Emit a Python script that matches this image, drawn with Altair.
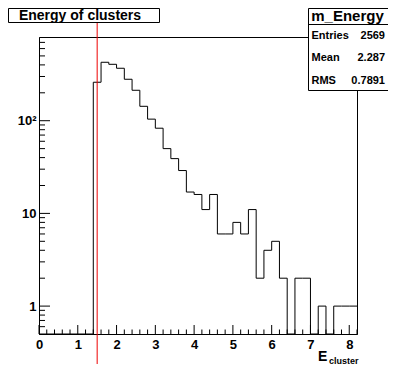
import altair as alt
import numpy as np
import pandas as pd

# ---- data ----
bin_width = 0.2
n_bins = 41  # 0.0 .. 8.2
counts = [0, 0, 0, 0, 0, 0, 0,
          260, 427, 406, 368, 280, 213, 143, 104, 83, 50,
          39, 29, 17, 16, 11, 16, 6, 6, 8, 6,
          11, 2, 4, 5, 2, 0, 2, 2, 0, 1,
          0, 1, 1, 1]
x_tick_labels = [0, 1, 2, 3, 4, 5, 6, 7, 8]
y_tick_values = [1, 10, 100]
cut_value = [1.5]
stats_names = ["Entries", "Mean", "RMS"]
stats_values = ["2569", "2.287", "0.7891"]
hist_name = "m_Energy"
title_text = "Energy of clusters"

edges = [round(i * bin_width, 1) for i in range(n_bins + 1)]
step_x = edges
step_y = counts + [counts[-1]]
hist_df = pd.DataFrame({"E": step_x, "N": [max(v, 0.1) for v in step_y]})

W, H = 318, 297
FONT = "Liberation Sans"

xscale = alt.Scale(domain=[0, 8.2], nice=False, zero=False)
yscale = alt.Scale(type="log", domain=[0.5, 800], nice=False, clamp=True)
xaxis = alt.Axis(values=x_tick_labels, format="d", ticks=False, grid=False,
                 title=None, labelPadding=4, domainColor="black", labelFlush=False)

hist = alt.Chart(hist_df).mark_line(
    interpolate="step-after", color="black", strokeWidth=1
).encode(
    x=alt.X("E:Q", scale=xscale, axis=xaxis),
    y=alt.Y("N:Q", scale=yscale,
            axis=alt.Axis(values=y_tick_values, ticks=False, grid=False, title=None,
                          labelPadding=3, domainColor="black",
                          labelExpr="datum.value == 100 ? '10²' : datum.label")),
)

# inward ticks (ROOT style)
xmaj = pd.DataFrame({"t": x_tick_labels})
xmin = pd.DataFrame({"t": [e for e in edges if abs(e - round(e)) > 1e-6]})
xt_major = alt.Chart(xmaj).mark_rule(color="black").encode(
    x=alt.X("t:Q", scale=xscale, axis=xaxis), y=alt.value(H), y2=alt.value(H - 9))
xt_minor = alt.Chart(xmin).mark_rule(color="black").encode(
    x=alt.X("t:Q", scale=xscale, axis=xaxis), y=alt.value(H), y2=alt.value(H - 4.5))

ymin_vals = [m * d for d in [0.1, 1, 10, 100] for m in range(2, 10) if 0.5 < m * d < 800]
yt_major = alt.Chart(pd.DataFrame({"t": y_tick_values})).mark_rule(color="black").encode(
    y=alt.Y("t:Q", scale=yscale, axis=None), x=alt.value(0), x2=alt.value(11))
yt_minor = alt.Chart(pd.DataFrame({"t": ymin_vals})).mark_rule(color="black").encode(
    y=alt.Y("t:Q", scale=yscale, axis=None), x=alt.value(0), x2=alt.value(6))

cut = alt.Chart(pd.DataFrame({"c": cut_value})).mark_rule(color="#ee0000", strokeWidth=1).encode(
    x=alt.X("c:Q", scale=xscale, axis=xaxis), y=alt.value(-29), y2=alt.value(327))

one = alt.Data(values=[{}])

# title box
tbox = alt.Chart(one).mark_rect(fill="white", stroke="black", strokeWidth=1).encode(
    x=alt.value(-30.5), x2=alt.value(120.5), y=alt.value(-28.5), y2=alt.value(-14.5))
ttext = alt.Chart(one).mark_text(
    text=title_text, font=FONT, fontWeight="bold", fontSize=14, align="center",
    baseline="alphabetic", color="black").encode(x=alt.value(41), y=alt.value(-17))

# stats box
sbox = alt.Chart(one).mark_rect(fill="white", stroke="black", strokeWidth=1).encode(
    x=alt.value(269.5), x2=alt.value(349.5), y=alt.value(-28.5), y2=alt.value(53.5))
sline = alt.Chart(one).mark_rule(color="black").encode(
    x=alt.value(269.5), x2=alt.value(349.5), y=alt.value(-12.5))
sname = alt.Chart(one).mark_text(
    text=hist_name, font=FONT, fontWeight="bold", fontSize=15, align="center",
    baseline="alphabetic", color="black").encode(x=alt.value(308.5), y=alt.value(-16.5))

stats_df = pd.DataFrame({"name": stats_names, "val": stats_values, "row": [0, 1, 2]})
stats_y = alt.Y("row:Q", scale=alt.Scale(domain=[0, 2], range=[1.5, 46.5], nice=False, zero=False),
                axis=None)
snames = alt.Chart(stats_df).mark_text(
    font=FONT, fontWeight="bold", fontSize=11, align="left", baseline="alphabetic",
    color="black").encode(text="name:N", x=alt.value(272.5), y=stats_y)
svals = alt.Chart(stats_df).mark_text(
    font=FONT, fontWeight="bold", fontSize=11, align="right", baseline="alphabetic",
    color="black").encode(text="val:N", x=alt.value(346), y=stats_y)

# axis title E_cluster
ex = alt.Chart(one).mark_text(
    text="E", font=FONT, fontWeight="bold", fontSize=14, align="left",
    baseline="alphabetic", color="black").encode(x=alt.value(279), y=alt.value(324))
esub = alt.Chart(one).mark_text(
    text="cluster", font=FONT, fontWeight="bold", fontSize=9, align="left",
    baseline="alphabetic", color="black").encode(x=alt.value(290), y=alt.value(326.5))

chart = alt.layer(
    hist, xt_major, xt_minor, yt_major, yt_minor, cut,
    tbox, ttext, sbox, sline, sname, snames, svals, ex, esub
).resolve_scale(
    y="independent"
).properties(
    width=W, height=H,
    autosize=alt.AutoSizeParams(type="none"),
    padding={"left": 31, "top": 29, "right": 31, "bottom": 30},
    background="white",
).configure_view(
    stroke="black", strokeWidth=1
).configure_axis(
    labelFont=FONT, labelFontWeight="bold", labelFontSize=13, labelColor="black",
    domainWidth=1,
)

chart.save("out.html", embed_options={"renderer": "svg", "actions": False})
